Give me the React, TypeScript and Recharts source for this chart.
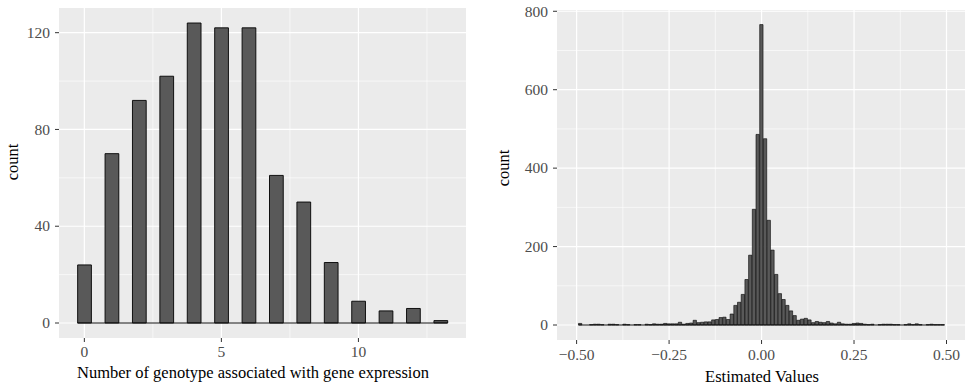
import { BarChart, Bar, XAxis, YAxis, CartesianGrid, ReferenceLine } from "recharts";

// left panel: number of genotypes per gene
const genotypeBins = [0, 1, 2, 3, 4, 5, 6, 7, 8, 9, 10, 11, 12, 13];
const genotypeCounts = [24, 70, 92, 102, 124, 122, 122, 61, 50, 25, 9, 5, 6, 1];
const genotypeXTicks = [0, 5, 10];
const genotypeXMinor = [2.5, 7.5, 12.5];
const genotypeYTicks = [0, 40, 80, 120];
const genotypeYMinor = [20, 60, 100];

// right panel: estimated values histogram (bin centres)
const estimateBins = [
  -0.49, -0.48, -0.47, -0.46, -0.45, -0.44, -0.43, -0.42, -0.41, -0.4,
  -0.39, -0.38, -0.37, -0.36, -0.35, -0.34, -0.33, -0.32, -0.31, -0.3,
  -0.29, -0.28, -0.27, -0.26, -0.25, -0.24, -0.23, -0.22, -0.21, -0.2,
  -0.19, -0.18, -0.17, -0.16, -0.15, -0.14, -0.13, -0.12, -0.11, -0.1,
  -0.09, -0.08, -0.07, -0.06, -0.05, -0.04, -0.03, -0.02, -0.01, 0,
  0.01, 0.02, 0.03, 0.04, 0.05, 0.06, 0.07, 0.08, 0.09, 0.1,
  0.11, 0.12, 0.13, 0.14, 0.15, 0.16, 0.17, 0.18, 0.19, 0.2,
  0.21, 0.22, 0.23, 0.24, 0.25, 0.26, 0.27, 0.28, 0.29, 0.3,
  0.31, 0.32, 0.33, 0.34, 0.35, 0.36, 0.37, 0.38, 0.39, 0.4,
  0.41, 0.42, 0.43, 0.44, 0.45, 0.46, 0.47, 0.48, 0.49,
];
const estimateCounts = [
  4, 0, 0, 1, 2, 2, 1, 0, 2, 2,
  1, 0, 2, 1, 0, 1, 1, 0, 2, 1,
  3, 2, 2, 4, 3, 3, 3, 7, 2, 4,
  5, 12, 6, 7, 8, 8, 13, 14, 19, 20,
  14, 28, 50, 58, 78, 116, 178, 295, 486, 766,
  475, 267, 191, 129, 80, 65, 50, 36, 24, 12,
  15, 17, 13, 6, 9, 7, 6, 9, 5, 3,
  7, 3, 2, 2, 4, 5, 4, 2, 1, 2,
  0, 1, 2, 2, 2, 1, 1, 0, 1, 3,
  1, 3, 1, 0, 1, 2, 1, 1, 1,
];
const estimateXTicks = [-0.5, -0.25, 0, 0.25, 0.5];
const estimateXMinor = [-0.375, -0.125, 0.125, 0.375];
const estimateYTicks = [0, 200, 400, 600, 800];
const estimateYMinor = [100, 300, 500, 700];

const genotypeData = genotypeBins.map((x, i) => ({ x, count: genotypeCounts[i] }));
const estimateData = estimateBins.map((x, i) => ({ x, count: estimateCounts[i] }));

const FONT = "'Liberation Serif', 'Times New Roman', serif";

const fmtEstimate = (v: number) => (v < 0 ? "\u2212" + Math.abs(v).toFixed(2) : v.toFixed(2));

// tick text drawn by hand so the serif font sticks
const makeTick = (fmt: (v: number) => string, dy: string) => (props: any) => {
  const { x, y, textAnchor, payload } = props;
  return (
    <text
      x={x}
      y={y}
      dy={dy}
      textAnchor={textAnchor}
      style={{ fontFamily: FONT, fontSize: 15.5, fill: "#4D4D4D" }}
    >
      {fmt(payload.value)}
    </text>
  );
};

const plain = (v: number) => String(v);

const App = () => {
  return (
    <div
      style={{
        position: "absolute",
        top: 0,
        left: 0,
        width: 968,
        height: 387,
        background: "#fff",
        display: "flex",
        fontFamily: FONT,
      }}
    >
      <BarChart width={480} height={387} data={genotypeData} margin={{ top: 8, right: 14, bottom: 0, left: 0 }}>
        <CartesianGrid
          fill="#EBEBEB"
          fillOpacity={1}
          stroke="#FFFFFF"
          strokeWidth={0.6}
          horizontalValues={genotypeYMinor}
          verticalValues={genotypeXMinor}
        />
        <CartesianGrid
          stroke="#FFFFFF"
          strokeWidth={1.2}
          horizontalValues={genotypeYTicks}
          verticalValues={genotypeXTicks}
        />
        <XAxis
          dataKey="x"
          type="number"
          domain={[-0.925, 13.925]}
          allowDataOverflow
          ticks={genotypeXTicks}
          height={49}
          axisLine={false}
          tickSize={4}
          tickMargin={4}
          tickLine={{ stroke: "#333333" }}
          tick={makeTick(plain, "0.71em")}
          label={{
            content: () => (
              <text x={253} y={377.5} textAnchor="middle" style={{ fontFamily: FONT, fontSize: 16.5, fill: "#000" }}>
                Number of genotype associated with gene expression
              </text>
            ),
          }}
        />
        <YAxis
          type="number"
          domain={[-6.2, 130.2]}
          allowDataOverflow
          ticks={genotypeYTicks}
          width={59}
          axisLine={false}
          tickSize={4}
          tickMargin={5}
          tickLine={{ stroke: "#333333" }}
          tick={makeTick(plain, "0.34em")}
          label={{
            content: () => (
              <text x={18} y={162} transform="rotate(-90 18 162)" textAnchor="middle" style={{ fontFamily: FONT, fontSize: 16.5, fill: "#000" }}>
                count
              </text>
            ),
          }}
        />
        <Bar dataKey="count" barSize={13.75} fill="#595959" stroke="#000" strokeWidth={0.9} isAnimationActive={false} />
        <ReferenceLine segment={[{ x: -0.25, y: 0 }, { x: 13.25, y: 0 }]} stroke="#111" strokeWidth={1} />
      </BarChart>

      <BarChart width={488} height={387} data={estimateData} margin={{ top: 10, right: 3, bottom: 0, left: 0 }}>
        <CartesianGrid
          fill="#EBEBEB"
          fillOpacity={1}
          stroke="#FFFFFF"
          strokeWidth={0.6}
          horizontalValues={estimateYMinor}
          verticalValues={estimateXMinor}
        />
        <CartesianGrid
          stroke="#FFFFFF"
          strokeWidth={1.2}
          horizontalValues={estimateYTicks}
          verticalValues={estimateXTicks}
        />
        <XAxis
          dataKey="x"
          type="number"
          domain={[-0.553, 0.55]}
          allowDataOverflow
          ticks={estimateXTicks}
          height={47}
          axisLine={false}
          tickSize={4}
          tickMargin={4.5}
          tickLine={{ stroke: "#333333" }}
          tick={makeTick(fmtEstimate, "0.71em")}
          label={{
            content: () => (
              <text x={282} y={381.5} textAnchor="middle" style={{ fontFamily: FONT, fontSize: 16.5, fill: "#000" }}>
                Estimated Values
              </text>
            ),
          }}
        />
        <YAxis
          type="number"
          domain={[-38.25, 803.25]}
          allowDataOverflow
          ticks={estimateYTicks}
          width={77}
          axisLine={false}
          tickSize={4}
          tickMargin={5}
          tickLine={{ stroke: "#333333" }}
          tick={makeTick(plain, "0.34em")}
          label={{
            content: () => (
              <text x={29} y={168} transform="rotate(-90 29 168)" textAnchor="middle" style={{ fontFamily: FONT, fontSize: 16.5, fill: "#000" }}>
                count
              </text>
            ),
          }}
        />
        <Bar dataKey="count" barSize={3.7} fill="#595959" stroke="#000" strokeWidth={0.6} isAnimationActive={false} />
        <ReferenceLine segment={[{ x: -0.495, y: 0 }, { x: 0.495, y: 0 }]} stroke="#111" strokeWidth={1} />
      </BarChart>
    </div>
  );
};

export default App;
